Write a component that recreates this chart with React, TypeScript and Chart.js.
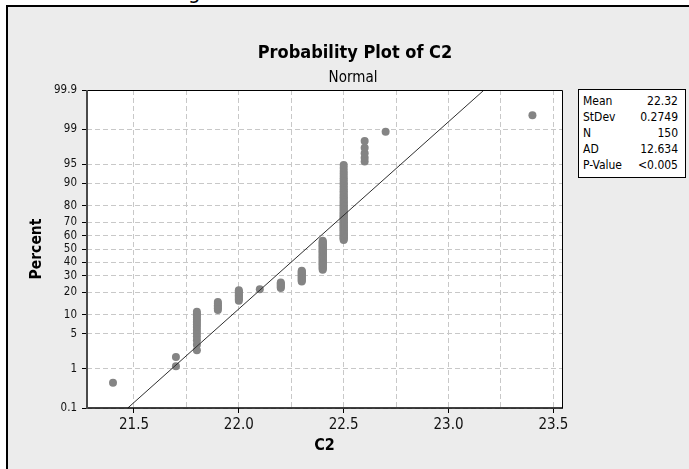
import React, { useEffect, useRef } from "react";
import { Chart, registerables } from "chart.js";

Chart.register(...registerables);

// ---- data ----
const VALUES = [21.4, 21.7, 21.8, 21.9, 22.0, 22.1, 22.2, 22.3, 22.4, 22.5, 22.6, 22.7, 23.4];
const COUNTS = [1, 2, 14, 6, 9, 1, 6, 12, 34, 58, 5, 1, 1];
const PERCENT_TICKS = [0.1, 1, 5, 10, 20, 30, 40, 50, 60, 70, 80, 90, 95, 99, 99.9];
const PERCENT_LABELS = ["0.1", "1", "5", "10", "20", "30", "40", "50", "60", "70", "80", "90", "95", "99", "99.9"];
const X_TICKS = [21.5, 21.75, 22.0, 22.25, 22.5, 22.75, 23.0, 23.25, 23.5];
const X_MIN = 21.276;
const X_MAX = 23.541;
const MEAN = 22.32;
const SD = 0.2749;
const STAT_LABELS = ["Mean", "StDev", "N", "AD", "P-Value"];
const STAT_VALUES = ["22.32", "0.2749", "150", "12.634", "<0.005"];
const TITLE = "Probability Plot of C2";
const SUBTITLE = "Normal";
const X_TITLE = "C2";
const Y_TITLE = "Percent";

const FONT = '"DejaVu Sans Condensed", "DejaVu Sans", sans-serif';

// inverse standard normal CDF (Acklam)
function probit(p: number): number {
  const a = [-3.969683028665376e1, 2.209460984245205e2, -2.759285104469687e2, 1.38357751867269e2, -3.066479806614716e1, 2.506628277459239];
  const b = [-5.447609879822406e1, 1.615858368580409e2, -1.556989798598866e2, 6.680131188771972e1, -1.328068155288572e1];
  const c = [-7.784894002430293e-3, -3.223964580411365e-1, -2.400758277161838, -2.549671010115138, 4.374664141464968, 2.938163982698783];
  const d = [7.784695709041462e-3, 3.224671290700398e-1, 2.445134137142996, 3.754408661907416];
  const plow = 0.02425;
  if (p < plow) {
    const q = Math.sqrt(-2 * Math.log(p));
    return (((((c[0] * q + c[1]) * q + c[2]) * q + c[3]) * q + c[4]) * q + c[5]) / ((((d[0] * q + d[1]) * q + d[2]) * q + d[3]) * q + 1);
  }
  if (p <= 1 - plow) {
    const q = p - 0.5;
    const r = q * q;
    return ((((((a[0] * r + a[1]) * r + a[2]) * r + a[3]) * r + a[4]) * r + a[5]) * q) / (((((b[0] * r + b[1]) * r + b[2]) * r + b[3]) * r + b[4]) * r + 1);
  }
  const q = Math.sqrt(-2 * Math.log(1 - p));
  return -(((((c[0] * q + c[1]) * q + c[2]) * q + c[3]) * q + c[4]) * q + c[5]) / ((((d[0] * q + d[1]) * q + d[2]) * q + d[3]) * q + 1);
}

const Y_MIN = probit(PERCENT_TICKS[0] / 100);
const Y_MAX = probit(PERCENT_TICKS[PERCENT_TICKS.length - 1] / 100);

const frame = {
  id: "frame",
  beforeDraw(chart: any) {
    const { ctx, chartArea: a } = chart;
    ctx.save();
    ctx.fillStyle = "#ffffff";
    ctx.fillRect(a.left, a.top, a.right - a.left, a.bottom - a.top);
    ctx.restore();
  },
  afterDraw(chart: any) {
    const { ctx, chartArea: a } = chart;
    ctx.save();
    ctx.strokeStyle = "#000";
    ctx.lineWidth = 1;
    ctx.beginPath();
    ctx.moveTo(a.left, a.top + 0.5);
    ctx.lineTo(a.right + 0.5, a.top + 0.5);
    ctx.lineTo(a.right + 0.5, a.bottom);
    ctx.stroke();
    ctx.lineWidth = 1.5;
    ctx.beginPath();
    ctx.moveTo(a.left - 1, a.bottom);
    ctx.lineTo(a.right + 1, a.bottom);
    ctx.stroke();
    ctx.strokeStyle = "#4a4a4a";
    ctx.lineWidth = 2;
    ctx.beginPath();
    ctx.moveTo(a.left, a.top);
    ctx.lineTo(a.left, a.bottom + 1);
    ctx.stroke();
    ctx.restore();
  },
};

export default function App() {
  const canvasRef = useRef<HTMLCanvasElement | null>(null);

  useEffect(() => {
    const n = COUNTS.reduce((s, v) => s + v, 0);
    const points: { x: number; y: number }[] = [];
    let rank = 0;
    VALUES.forEach((v, k) => {
      for (let j = 0; j < COUNTS[k]; j++) {
        rank++;
        points.push({ x: v, y: probit((rank - 0.3) / (n + 0.4)) });
      }
    });
    const fit = [
      { x: MEAN + SD * Y_MIN, y: Y_MIN },
      { x: MEAN + SD * 3.6, y: 3.6 },
    ];

    const isMajor = (v: number) => Math.abs(v * 2 - Math.round(v * 2)) < 1e-6;

    const chart = new Chart(canvasRef.current as HTMLCanvasElement, {
      type: "scatter",
      data: {
        datasets: [
          {
            data: fit,
            showLine: true,
            borderColor: "#2e2e2e",
            borderWidth: 1,
            pointRadius: 0,
            pointHoverRadius: 0,
            order: 0,
          } as any,
          {
            data: points,
            pointRadius: 4,
            pointHoverRadius: 4,
            pointBackgroundColor: "#848484",
            pointBorderWidth: 0,
            borderWidth: 0,
            order: 1,
          } as any,
        ],
      },
      plugins: [frame],
      options: {
        responsive: false,
        animation: false,
        events: [],
        layout: { padding: { top: 90, right: 127, left: 0, bottom: 0 } },
        plugins: { legend: { display: false }, tooltip: { enabled: false }, title: { display: false } },
        scales: {
          x: {
            type: "linear",
            min: X_MIN,
            max: X_MAX,
            afterBuildTicks: (s: any) => {
              s.ticks = X_TICKS.map((v) => ({ value: v }));
            },
            afterFit: (s: any) => {
              s.height = 61;
            },
            ticks: {
              autoSkip: false,
              maxRotation: 0,
              padding: 3,
              color: "#111",
              font: { family: FONT, size: 15 },
              callback: (v: any) => (isMajor(Number(v)) ? Number(v).toFixed(1) : ""),
            },
            grid: {
              color: "#c8c8c8",
              lineWidth: 1,
              tickLength: 5,
              tickWidth: 1,
              tickBorderDash: [],
              tickColor: (ctx: any) => (ctx.tick && isMajor(ctx.tick.value) ? "#000" : "rgba(0,0,0,0)"),
            },
            border: { display: false, dash: [5, 3] },
            title: {
              display: true,
              text: X_TITLE,
              color: "#000",
              font: { family: FONT, size: 16, weight: "bold" },
              padding: { top: 0, bottom: 13.4 },
            },
          } as any,
          y: {
            type: "linear",
            min: Y_MIN,
            max: Y_MAX,
            afterBuildTicks: (s: any) => {
              s.ticks = PERCENT_TICKS.map((p) => ({ value: probit(p / 100) }));
            },
            afterFit: (s: any) => {
              s.width = 87;
            },
            ticks: {
              autoSkip: false,
              padding: 5,
              color: "#111",
              font: { family: FONT, size: 11.5 },
              callback: (_v: any, i: number) => PERCENT_LABELS[i],
            },
            grid: {
              color: "#c8c8c8",
              lineWidth: 1,
              tickLength: 5,
              tickWidth: 1,
              tickBorderDash: [],
              tickColor: "#000",
            },
            border: { display: false, dash: [5, 3] },
            title: {
              display: true,
              text: Y_TITLE,
              color: "#000",
              font: { family: FONT, size: 15.5, weight: "bold" },
              padding: { top: 27.5, bottom: 0 },
            },
          } as any,
        },
      },
    });
    return () => chart.destroy();
  }, []);

  return (
    <div style={{ position: "fixed", left: 0, top: 0, width: 689, height: 469, background: "#fff", overflow: "hidden", fontFamily: FONT }}>
      <span style={{ position: "absolute", left: 188, top: -19, fontSize: 22, lineHeight: "22px", color: "#000" }}>g</span>
      <div style={{ position: "absolute", left: 6, top: 5, right: 0, bottom: 0, background: "#ececec", borderTop: "2px solid #000", borderLeft: "2px solid #000" }} />
      <canvas ref={canvasRef} width={689} height={469} style={{ position: "absolute", left: 0, top: 0, width: 689, height: 469 }} />
      <div style={{ position: "absolute", left: 355, top: 43, transform: "translateX(-50%)", whiteSpace: "nowrap", fontSize: 18, lineHeight: "18px", fontWeight: "bold", color: "#000" }}>{TITLE}</div>
      <div style={{ position: "absolute", left: 353, top: 70, transform: "translateX(-50%)", whiteSpace: "nowrap", fontSize: 15, lineHeight: "15px", color: "#000" }}>{SUBTITLE}</div>
      <div style={{ position: "absolute", left: 578, top: 89, width: 108, height: 89, boxSizing: "border-box", border: "1px solid #000", background: "#fff", padding: "3px 7px 0 4px", fontSize: 12, color: "#000" }}>
        {STAT_LABELS.map((label, i) => (
          <div key={label} style={{ display: "flex", justifyContent: "space-between", height: 16, lineHeight: "16px" }}>
            <span>{label}</span>
            <span>{STAT_VALUES[i]}</span>
          </div>
        ))}
      </div>
    </div>
  );
}
